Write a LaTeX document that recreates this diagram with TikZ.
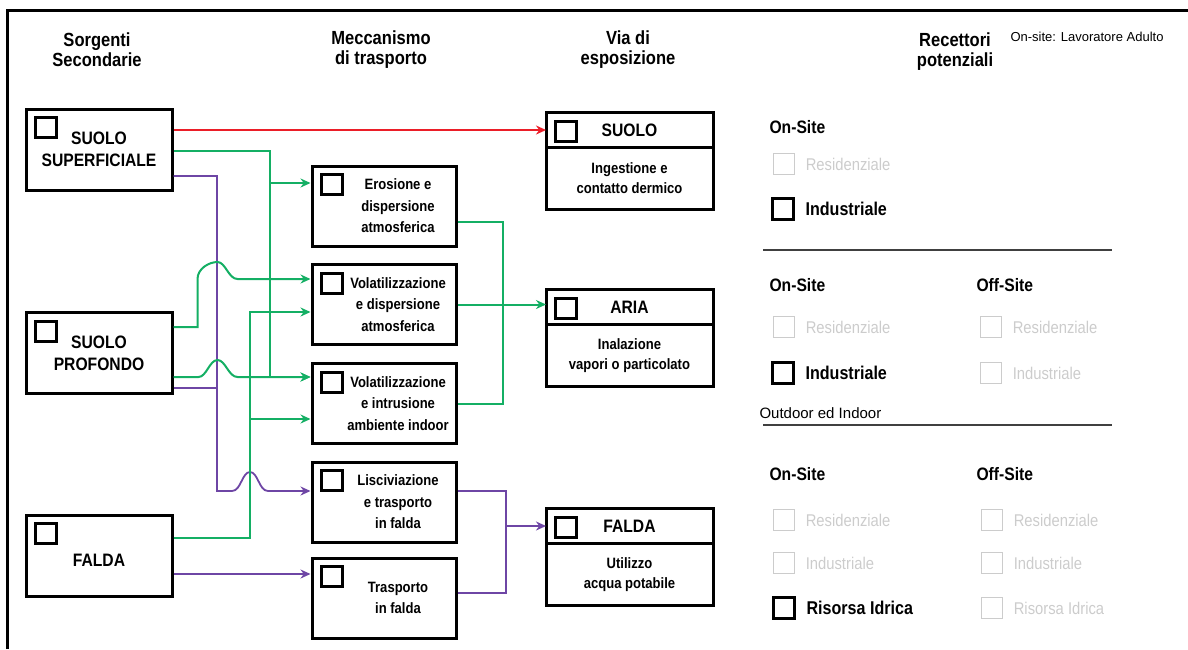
\documentclass[tikz,border=0pt]{standalone}
\usepackage{fontspec}
\setmainfont{Liberation Sans}[FakeStretch=0.87]
\newfontfamily\plainfont{Liberation Sans}
\usetikzlibrary{arrows.meta, positioning, calc}
\definecolor{verdino}{RGB}{20,175,100}
\definecolor{viola}{RGB}{110,70,165}
\definecolor{rosso}{RGB}{235,30,40}
\tikzset{>={Stealth[length=10pt,width=9pt]}}
\tikzset{
  casella/.style={path picture={\draw[line width=3pt] ([shift={(9,8.5)}]path picture bounding box.north west) rectangle ++(21,20);}},
  sorg/.style={draw, line width=3pt, minimum width=146pt, minimum height=81pt, align=center, font=\fontsize{18}{22}\selectfont\bfseries, casella},
  mecc/.style={draw, line width=3pt, minimum width=144pt, minimum height=80pt, casella},
  mtxt/.style={align=center, xshift=14pt, font=\fontsize{15}{21.5}\selectfont\bfseries},
  vhead/.style={draw, line width=3pt, outer sep=0pt, minimum width=167pt, minimum height=35pt, font=\fontsize{18}{20}\selectfont\bfseries, casella},
  vbody/.style={draw, line width=3pt, outer sep=0pt, minimum width=167pt, minimum height=62pt, align=center, font=\fontsize{15}{20}\selectfont\bfseries},
  titolo/.style={align=center, font=\fontsize{19}{20}\selectfont\bfseries},
  sez/.style={anchor=west, font=\fontsize{18}{20}\selectfont\bfseries},
  chkon/.style={draw, line width=3pt, minimum size=21pt, inner sep=0pt},
  chkoff/.style={draw=gray!40, line width=1.5pt, minimum size=21pt, inner sep=0pt},
  voce/.style={right=7pt of #1, font=\fontsize{18.5}{20}\selectfont\bfseries},
  voceoff/.style={right=7pt of #1, text=gray!40, font=\fontsize{17}{20}\selectfont},
  piccolo/.style={anchor=west, font=\plainfont\fontsize{13}{15}\selectfont},
  grn/.style={draw=verdino, line width=2pt},
  vio/.style={draw=viola, line width=1.8pt},
  ros/.style={draw=rosso, line width=2pt}
}

\begin{document}
\begin{tikzpicture}[x=1pt, y=-1pt]
	\useasboundingbox (0,0) rectangle (1188,649);
	\draw[line width=3pt] (7,649) -- (7,10) -- (1188,10);

	% titoli delle colonne
	\node[titolo] (h1) at (97,50) {Sorgenti\\Secondarie};
	\node[titolo] (h2) at (381,50) {Meccanismo\\di trasporto};
	\node[titolo] (h3) at (628,50) {Via di\\esposizione};
	\node[titolo] (h4) at (955,52) {Recettori\\potenziali};
	\node[piccolo] (nota) at (1007,37) {On-site: Lavoratore Adulto};

	% sorgenti secondarie
	\node[sorg] (ss) at (99,149.5) {SUOLO\\SUPERFICIALE};
	\node[sorg] (sp) at (99,353) {SUOLO\\PROFONDO};
	\node[sorg] (sf) at (99,555.5) {\\FALDA};

	% meccanismi di trasporto
	\node[mecc, label={[mtxt]center:{Erosione e\\dispersione\\atmosferica}}] (ero) at (384,206) {};
	\node[mecc, label={[mtxt]center:{Volatilizzazione\\e dispersione\\atmosferica}}] (vdis) at (384,304.5) {};
	\node[mecc, label={[mtxt]center:{Volatilizzazione\\e intrusione\\ambiente indoor}}] (vint) at (384,403.5) {};
	\node[mecc, label={[mtxt]center:{Lisciviazione\\e trasporto\\in falda}}] (lisc) at (384,502) {};
	\node[mecc, label={[mtxt]center:{Trasporto\\in falda}}] (trasp) at (384,598) {};

	% vie di esposizione
	\node[vhead] (vsuolo) at (629.5,130) {SUOLO};
	\node[vbody, below=0pt of vsuolo] (vsuolo-b) {Ingestione e\\contatto dermico};
	\node[vhead] (varia) at (629.5,307) {ARIA};
	\node[vbody, below=0pt of varia] (varia-b) {Inalazione\\vapori o particolato};
	\node[vhead] (vfalda) at (629.5,526) {FALDA};
	\node[vbody, below=0pt of vfalda] (vfalda-b) {Utilizzo\\acqua potabile};

	% punti di ingresso e di snodo
	\coordinate (ero1) at ([yshift=23pt]ero.west);
	\coordinate (vdis1) at ([yshift=25.5pt]vdis.west);
	\coordinate (vdis2) at ([yshift=-7.5pt]vdis.west);
	\coordinate (vint1) at ([yshift=26.5pt]vint.west);
	\coordinate (vint2) at ([yshift=-15.5pt]vint.west);
	\coordinate (lisc1) at ([yshift=11pt]lisc.west);
	\coordinate (trasp1) at ([yshift=24pt]trasp.west);
	\coordinate (trasp2) at ([yshift=5pt]trasp.east);
	\coordinate (gs) at (270,151);
	\coordinate (ps) at (217,176);
	\coordinate (gf) at (250,538);
	\coordinate (gr) at (503,222);
	\coordinate (pr) at (506,491);

	% suolo superficiale
	\draw[ros,->] (ss.east |- vsuolo.west) -- (vsuolo.west);
	\draw[grn,->] (ss.east |- gs) -- (gs) -- (gs |- vint1) -- (vint1);
	\draw[grn,->] (gs |- ero1) -- (ero1);
	\draw[vio,->] (ss.east |- ps) -- (ps) -- (ps |- lisc1) -- ++(15,0)
		.. controls +(9,0) and +(-8,0) .. ++(18,-19)
		.. controls +(8,0) and +(-9,0) .. ++(18,19) -- (lisc1);

	% suolo profondo
	\draw[grn,->] ([yshift=26pt]sp.east) -- ++(24,0) -- ++(0,-48)
		.. controls +(0,-10) and +(-9,0) .. ++(20,-17)
		.. controls +(8,0) and +(-9,0) .. ++(20,17) -- (vdis1);
	\draw[grn,->] ([yshift=-24pt]sp.east) -- ++(25,0)
		.. controls +(8,0) and +(-8,0) .. ++(19,-17)
		.. controls +(8,0) and +(-9,0) .. ++(20,17) -- (vint1);
	\draw[vio] ([yshift=-35pt]sp.east) -- ([yshift=-35pt]sp.east -| ps);

	% falda
	\draw[grn,->] ([yshift=17.5pt]sf.east) -- (gf) -- (gf |- vdis2) -- (vdis2);
	\draw[grn,->] (gf |- vint2) -- (vint2);
	\draw[vio,->] (sf.east |- trasp1) -- (trasp1);

	% verso le vie di esposizione
	\draw[grn] ([yshift=-16pt]ero.east) -- (gr) -- (gr |- vint.east) -- (vint.east);
	\draw[grn,->] (vdis.east) -- (vdis.east -| varia.west);
	\draw[vio] ([yshift=11pt]lisc.east) -- (pr) -- (pr |- trasp2) -- (trasp2);
	\draw[vio,->] (pr |- vfalda.west) -- (vfalda.west);

	% recettori: suolo
	\node[sez] (on1) at (766,127) {On-Site};
	\node[chkoff] (c11) at (784,164) {};
	\node[voceoff=c11] (t11) {Residenziale};
	\node[chkon] (c12) at (783,209) {};
	\node[voce=c12] (t12) {Industriale};
	\draw[black!75, line width=1.5pt] (763,250) -- (1112,250);

	% recettori: aria
	\node[sez] (on2) at (766,285) {On-Site};
	\node[sez] (off2) at (973,285) {Off-Site};
	\node[chkoff] (c21) at (784,327) {};
	\node[voceoff=c21] (t21) {Residenziale};
	\node[chkoff] (c22) at (991,327) {};
	\node[voceoff=c22] (t22) {Residenziale};
	\node[chkon] (c23) at (783,373) {};
	\node[voce=c23] (t23) {Industriale};
	\node[chkoff] (c24) at (991,373) {};
	\node[voceoff=c24] (t24) {Industriale};
	\node[piccolo, font=\plainfont\fontsize{15}{17}\selectfont] (od) at (756,413) {Outdoor ed Indoor};
	\draw[black!75, line width=1.5pt] (763,425) -- (1112,425);

	% recettori: falda
	\node[sez] (on3) at (766,474) {On-Site};
	\node[sez] (off3) at (973,474) {Off-Site};
	\node[chkoff] (c31) at (784,520) {};
	\node[voceoff=c31] (t31) {Residenziale};
	\node[chkoff] (c32) at (992,520) {};
	\node[voceoff=c32] (t32) {Residenziale};
	\node[chkoff] (c33) at (784,563) {};
	\node[voceoff=c33] (t33) {Industriale};
	\node[chkoff] (c34) at (992,563) {};
	\node[voceoff=c34] (t34) {Industriale};
	\node[chkon] (c35) at (784,608) {};
	\node[voce=c35] (t35) {Risorsa Idrica};
	\node[chkoff] (c36) at (992,608) {};
	\node[voceoff=c36] (t36) {Risorsa Idrica};
\end{tikzpicture}
\end{document}
